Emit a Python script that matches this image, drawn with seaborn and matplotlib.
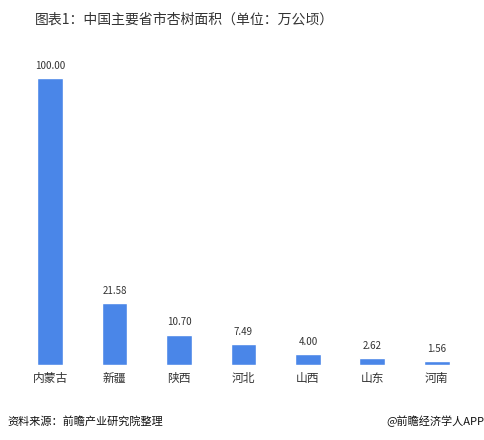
import matplotlib
matplotlib.use("Agg")
import matplotlib.pyplot as plt
import seaborn as sns
import pandas as pd

provinces = ["内蒙古", "新疆", "陕西", "河北", "山西", "山东", "河南"]
areas = [100.00, 21.58, 10.70, 7.49, 4.00, 2.62, 1.56]

sns.set_style("white")
plt.rcParams['font.family'] = ['Noto Sans CJK SC', 'DejaVu Sans']

df = pd.DataFrame({"province": provinces, "area": areas})

fig = plt.figure(figsize=(4.85, 4.4), dpi=100)
# baseline at y~365px, 100 bar top at y~78px
ax = fig.add_axes([0.037, 0.17, 0.93, 0.652])
sns.barplot(data=df, x="province", y="area", color="#4a86e8", saturation=1,
            width=0.4, ax=ax)

for i, v in enumerate(areas):
    ax.text(i, v + 2.5, "%.2f" % v, ha="center", va="bottom", fontsize=7, color="#333333")

ax.set_ylim(0, 100)
ax.set_xlim(-0.5, 6.5)
ax.set_yticks([])
ax.set_xlabel("")
ax.set_ylabel("")
for s in ["top", "right", "left", "bottom"]:
    ax.spines[s].set_visible(False)
ax.tick_params(axis="x", labelsize=8.5, length=0, pad=5, colors="#333333")

fig.text(0.072, 0.955, "图表1：中国主要省市杏树面积（单位：万公顷）", fontsize=10,
         color="#333333", va="center")
fig.text(0.015, 0.043, "资料来源：前瞻产业研究院整理", fontsize=8, style="italic",
         color="#111111", va="center")
fig.text(0.998, 0.043, "@前瞻经济学人APP", fontsize=8, color="#111111",
         va="center", ha="right")

fig.savefig("out.png", dpi=100)
